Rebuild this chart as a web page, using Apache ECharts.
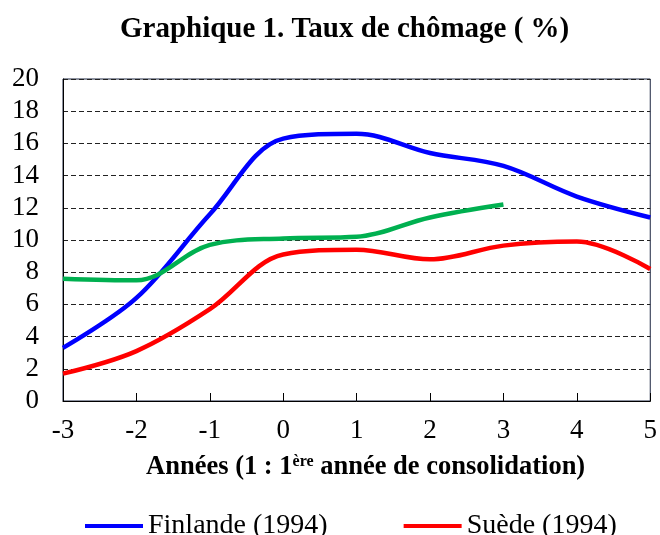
<!DOCTYPE html>
<html>
<head>
<meta charset="utf-8">
<script src="https://cdn.jsdelivr.net/npm/echarts@6/dist/echarts.min.js"></script>
<style>
  html, body { margin: 0; padding: 0; background: #fff; }
  #chart { width: 660px; height: 535px; }
</style>
</head>
<body>
<div id="chart"></div>
<script>
// années relatives (1 : 1ère année de consolidation)
const years = [-3, -2, -1, 0, 1, 2, 3, 4, 5]
const finlande = [3.3, 6.4, 11.6, 16.3, 16.6, 15.4, 14.6, 12.7, 11.4]
const suede = [1.7, 3.1, 5.7, 9.1, 9.4, 8.8, 9.65, 9.9, 8.2]
const autre = [7.6, 7.5, 9.7, 10.1, 10.2, 11.4, 12.2]
const yTicks = [0, 2, 4, 6, 8, 10, 12, 14, 16, 18, 20]

const serif = "'Liberation Serif', 'Times New Roman', serif"

function pairs(values) {
  return values.map((v, i) => [years[i], v])
}

const chart = echarts.init(document.getElementById('chart'))
chart.setOption({
  animation: false,
  title: {
    text: 'Graphique 1. Taux de chômage ( %)',
    left: 115,
    top: 10,
    textStyle: { fontFamily: serif, fontSize: 29, fontWeight: 'bold', color: '#000' }
  },
  legend: {
    data: ['Finlande (1994)', 'Suède (1994)'],
    icon: 'rect',
    left: 80,
    top: 507,
    itemWidth: 58,
    itemHeight: 4,
    itemGap: 76,
    textStyle: { fontFamily: serif, fontSize: 28, color: '#000' }
  },
  grid: {
    left: 63,
    right: 9,
    top: 79,
    bottom: 134,
    show: true,
    borderColor: '#1b2440',
    borderWidth: 1
  },
  xAxis: {
    type: 'value',
    min: years[0],
    max: years[years.length - 1],
    interval: 1,
    name: '{b|Années (1 : 1}{sup|ère}{b| année de consolidation)}',
    nameLocation: 'middle',
    nameGap: 50,
    nameTextStyle: {
      padding: [0, 0, 0, 18],
      rich: {
        b: { fontFamily: serif, fontSize: 26.5, fontWeight: 'bold', color: '#000', verticalAlign: 'bottom', lineHeight: 30 },
        sup: { fontFamily: serif, fontSize: 16, fontWeight: 'bold', color: '#000', verticalAlign: 'bottom', padding: [0, 0, 11, 0] }
      }
    },
    axisLine: { lineStyle: { color: '#000', width: 1 } },
    axisTick: { inside: true, length: 8, lineStyle: { color: '#000' } },
    axisLabel: { margin: 16, fontFamily: serif, fontSize: 27, color: '#000' },
    splitLine: { show: false }
  },
  yAxis: {
    type: 'value',
    min: yTicks[0],
    max: yTicks[yTicks.length - 1],
    interval: 2,
    axisLine: { show: true, onZero: false, lineStyle: { color: '#000', width: 1 } },
    axisTick: { show: false },
    axisLabel: { margin: 24, fontFamily: serif, fontSize: 27, color: '#000' },
    splitLine: { lineStyle: { color: '#222', type: [5, 3], width: 1 } }
  },
  series: [
    {
      name: 'Finlande (1994)',
      type: 'line',
      smooth: 0.35,
      symbol: 'none',
      color: '#0000ff',
      lineStyle: { width: 4.5, color: '#0000ff' },
      data: pairs(finlande)
    },
    {
      name: 'Suède (1994)',
      type: 'line',
      smooth: 0.35,
      symbol: 'none',
      color: '#ff0000',
      lineStyle: { width: 4.5, color: '#ff0000' },
      data: pairs(suede)
    },
    {
      name: 'Autre',
      type: 'line',
      smooth: 0.35,
      symbol: 'none',
      color: '#00b050',
      lineStyle: { width: 4.5, color: '#00b050' },
      data: pairs(autre)
    }
  ]
})
</script>
</body>
</html>
